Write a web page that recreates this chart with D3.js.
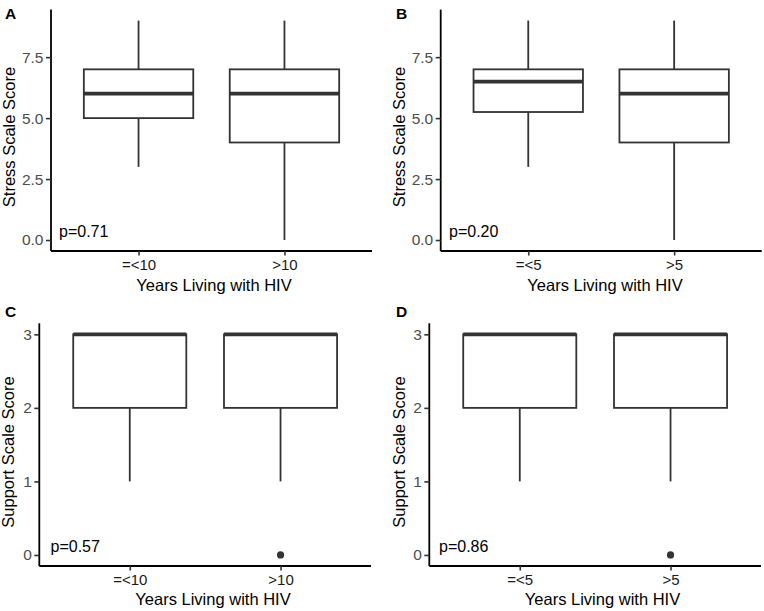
<!DOCTYPE html>
<html><head><meta charset="utf-8">
<script src="https://cdn.jsdelivr.net/npm/d3@7"></script>
<style>
body{margin:0;background:#fff;}
svg{display:block;font-family:"Liberation Sans",Arial,sans-serif;}
</style></head>
<body>
<svg id="c" width="764" height="611"></svg>
<script>
// ---- data ----
const catsA = ["=<10", ">10"];
const catsB = ["=<5", ">5"];
// five-number summaries: [lowerWhisker, q1, median, q3, upperWhisker]
const stressA = [[3, 5, 6, 7, 9], [0, 4, 6, 7, 9]];
const stressB = [[3, 5.25, 6.5, 7, 9], [0, 4, 6, 7, 9]];
const supportC = [[1, 2, 3, 3, 3], [1, 2, 3, 3, 3]];
const supportD = [[1, 2, 3, 3, 3], [1, 2, 3, 3, 3]];
const outliersC = [[], [0]];
const outliersD = [[], [0]];
const stressTicks = [0, 2.5, 5, 7.5];
const supportTicks = [0, 1, 2, 3];
const pValues = ["p=0.71", "p=0.20", "p=0.57", "p=0.86"];
const panelLabels = ["A", "B", "C", "D"];
const xTitle = "Years Living with HIV";
const yTitles = ["Stress Scale Score", "Stress Scale Score", "Support Scale Score", "Support Scale Score"];

// ---- layout ----
const svg = d3.select("#c");
const panels = [
  {cats: catsA, stats: stressA, out: [[],[]], ticks: stressTicks, fmt: d3.format(".1f"), dom: [0, 9],
   x0: 51, x1: 372, yT: 9.6, yB: 251, lab: [5, 19], ytx: 15, yty: 137, xtx: 214, xty: 291, px: 59, py: 237},
  {cats: catsB, stats: stressB, out: [[],[]], ticks: stressTicks, fmt: d3.format(".1f"), dom: [0, 9],
   x0: 440.7, x1: 761.7, yT: 9.6, yB: 251, lab: [396, 19], ytx: 404.5, yty: 137, xtx: 605, xty: 291, px: 449, py: 237},
  {cats: catsA, stats: supportC, out: outliersC, ticks: supportTicks, fmt: d3.format("d"), dom: [0, 3],
   x0: 39.3, x1: 371, yT: 323.3, yB: 566, lab: [5, 317], ytx: 14.3, yty: 452, xtx: 213, xty: 605, px: 50.5, py: 552},
  {cats: catsB, stats: supportD, out: outliersD, ticks: supportTicks, fmt: d3.format("d"), dom: [0, 3],
   x0: 429.3, x1: 761, yT: 323.3, yB: 566, lab: [396, 317], ytx: 404.5, yty: 452, xtx: 602.5, xty: 605, px: 439, py: 552}
];

panels.forEach((p, i) => {
  const g = svg.append("g");
  const span = p.dom[1] - p.dom[0];
  const y = d3.scaleLinear().domain([p.dom[0] - span * 0.05, p.dom[1] + span * 0.05]).range([p.yB, p.yT]);
  const x = d3.scalePoint().domain(p.cats).range([p.x0, p.x1]).padding(0.6);
  const bw = x.step() * 0.75;

  // boxes
  p.cats.forEach((c, j) => {
    const s = p.stats[j];
    const cx = x(c);
    const bg = g.append("g").attr("stroke", "#333333").attr("fill", "#fff");
    bg.append("line").attr("x1", cx).attr("x2", cx).attr("y1", y(s[3])).attr("y2", y(s[4])).attr("stroke-width", 1.8);
    bg.append("line").attr("x1", cx).attr("x2", cx).attr("y1", y(s[1])).attr("y2", y(s[0])).attr("stroke-width", 1.8);
    bg.append("rect").attr("x", cx - bw / 2).attr("width", bw)
      .attr("y", y(s[3])).attr("height", Math.max(0, y(s[1]) - y(s[3]))).attr("stroke-width", 1.8);
    bg.append("line").attr("x1", cx - bw / 2).attr("x2", cx + bw / 2).attr("y1", y(s[2])).attr("y2", y(s[2])).attr("stroke-width", 3.8);
    p.out[j].forEach(v => {
      g.append("circle").attr("cx", cx).attr("cy", y(v)).attr("r", 3.6).attr("fill", "#333333");
    });
  });

  // axes
  const ya = g.append("g").attr("transform", `translate(${p.x0},0)`)
    .call(d3.axisLeft(y).tickValues(p.ticks).tickFormat(p.fmt).tickSize(5).tickPadding(2.5).tickSizeOuter(0));
  const xa = g.append("g").attr("transform", `translate(0,${p.yB})`)
    .call(d3.axisBottom(x).tickSize(4.5).tickPadding(3.5).tickSizeOuter(0));
  [ya, xa].forEach(a => {
    a.attr("font-size", null).attr("font-family", null);
    a.select(".domain").attr("stroke", "#000").attr("stroke-width", 1.8);
    a.selectAll(".tick line").attr("stroke", "#333333").attr("stroke-width", 1.6);
    a.selectAll(".tick text").attr("fill", "#4D4D4D").style("font-size", "15.5px");
  });
  xa.selectAll(".tick text").attr("fill", "#1a1a1a").style("font-size", "15px");
  // axis lines span the full panel
  xa.select(".domain").attr("d", `M${p.x0},0H${p.x1}`);
  ya.select(".domain").attr("d", `M0,${p.yB}V${p.yT}`);

  // titles
  g.append("text").attr("transform", `translate(${p.ytx},${p.yty}) rotate(-90)`)
    .attr("text-anchor", "middle").style("font-size", "16.5px").attr("fill", "#000").text(yTitles[i]);
  g.append("text").attr("x", p.xtx).attr("y", p.xty)
    .attr("text-anchor", "middle").style("font-size", "16.5px").attr("fill", "#000").text(xTitle);
  g.append("text").attr("x", p.px).attr("y", p.py)
    .style("font-size", "16px").attr("fill", "#000").text(pValues[i]);
  g.append("text").attr("x", p.lab[0]).attr("y", p.lab[1])
    .style("font-size", "15.5px").style("font-weight", "bold").attr("fill", "#000").text(panelLabels[i]);
});
</script>
</body></html>
